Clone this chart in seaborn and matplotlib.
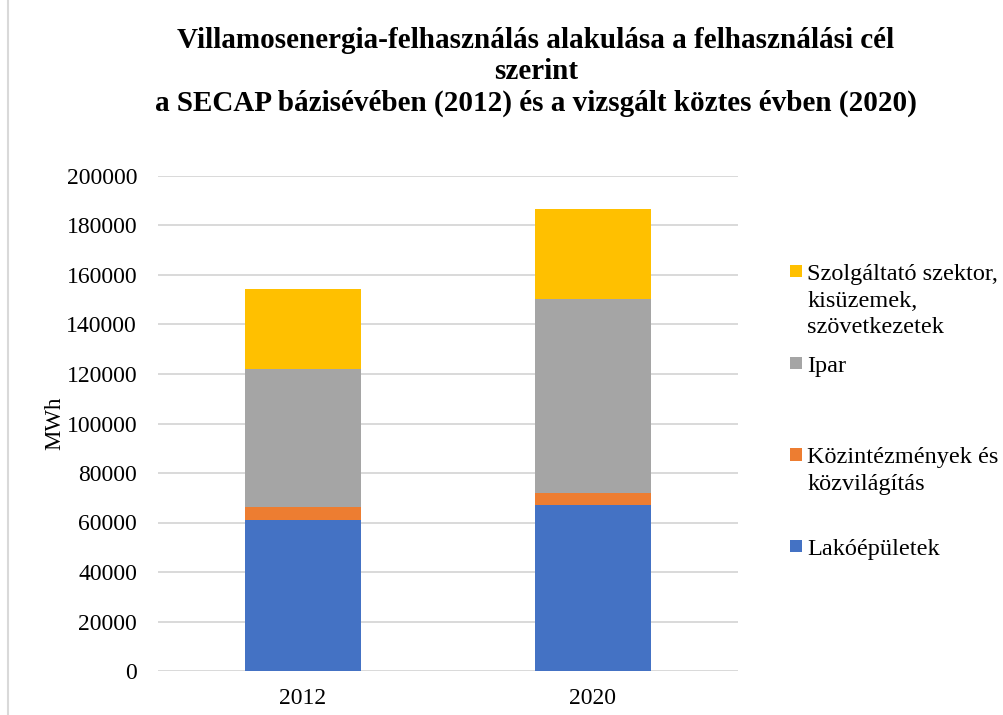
import matplotlib
matplotlib.use("Agg")
import matplotlib.pyplot as plt
import seaborn as sns
import pandas as pd
from matplotlib.legend_handler import HandlerPatch
from matplotlib.patches import Rectangle
from matplotlib.lines import Line2D

# ---- data ----
years = ["2012", "2020"]
lakoepuletek = [61100, 67000]
kozintezmenyek = [5100, 4800]
ipar = [56000, 78400]
szolgaltato = [32000, 36300]

series_names = [
    "Lakóépületek",
    "Közintézmények és\nközvilágítás",
    "Ipar",
    "Szolgáltató szektor,\nkisüzemek,\nszövetkezetek",
]
series_values = [lakoepuletek, kozintezmenyek, ipar, szolgaltato]
colors = ["#4472C4", "#ED7D31", "#A5A5A5", "#FFC000"]

title = ("Villamosenergia-felhasználás alakulása a felhasználási cél\n"
         "szerint\n"
         "a SECAP bázisévében (2012) és a vizsgált köztes évben (2020)")
ylabel = "MWh"
yticks = [0, 20000, 40000, 60000, 80000, 100000, 120000, 140000, 160000, 180000, 200000]

sns.set_theme(style="white")
plt.rcParams["font.family"] = ["Liberation Serif", "DejaVu Serif"]

fig = plt.figure(figsize=(10.04, 7.15), dpi=100)
ax = fig.add_axes([158 / 1004, 1 - 671 / 715, 580 / 1004, 495 / 715])

# cumulative stacking (draw tallest first)
cum = []
running = [0, 0]
for vals in series_values:
    running = [r + v for r, v in zip(running, vals)]
    cum.append(list(running))

for i in range(len(series_values) - 1, -1, -1):
    df = pd.DataFrame({"year": years, "value": cum[i]})
    sns.barplot(data=df, x="year", y="value", color=colors[i], width=0.4,
                saturation=1, ax=ax, linewidth=0, zorder=3)

ax.set_xlim(-0.5, 1.5)
ax.set_ylim(0, 200000)
ax.set_yticks(yticks)
ax.set_yticklabels([str(t) for t in yticks])
ax.set_xlabel("")
ax.set_ylabel(ylabel, fontsize=16.5, labelpad=1, color="#000000")
ax.grid(axis="y", color="#d9d9d9", linewidth=1.4, zorder=0)
ax.grid(axis="x", visible=False)
ax.set_axisbelow(True)
for s in ax.spines.values():
    s.set_visible(False)
ax.tick_params(axis="y", length=0, pad=15, labelsize=17, labelcolor="#000000")
ax.tick_params(axis="x", length=0, pad=12, labelsize=17, labelcolor="#000000")


class TopSquare(HandlerPatch):
    def __init__(self, shift, size, **kw):
        super().__init__(**kw)
        self.shift = shift
        self.size = size

    def create_artists(self, legend, orig_handle, xdescent, ydescent,
                       width, height, fontsize, trans):
        cy = -ydescent + height / 2 + self.shift
        p = Rectangle((-xdescent, cy - self.size / 2), self.size, self.size,
                      facecolor=orig_handle.get_facecolor(), edgecolor="none",
                      transform=trans)
        return [p]


order = [3, 2, 1, 0]
handles, labels, hmap = [], [], {}
for i in order:
    h = Rectangle((0, 0), 1, 1, facecolor=colors[i])
    name = series_names[i]
    nl = name.count("\n") + 1
    padded = name + "\n" * (3 - nl)
    handles.append(h)
    labels.append(padded)
    hmap[h] = TopSquare(shift=21.2, size=9)

leg = fig.legend(handles, labels, handler_map=hmap, loc="upper left",
                 bbox_to_anchor=(790 / 1004, 1 - 264 / 715),
                 frameon=False, fontsize=17.5, handlelength=0.52,
                 handletextpad=0.2, labelspacing=0.72, borderpad=0,
                 borderaxespad=0)
for t in leg.get_texts():
    t.set_linespacing(1.35)
    t.set_color("#000000")

fig.text(536 / 1004, 1 - 27 / 715, title, ha="center", va="top",
         fontsize=21, fontweight="bold", linespacing=1.2, color="#000000")

fig.add_artist(Line2D([8 / 1004, 8 / 1004], [0, 1], transform=fig.transFigure,
                      color="#d9d9d9", linewidth=1.5))

fig.savefig("out.png", dpi=100)
